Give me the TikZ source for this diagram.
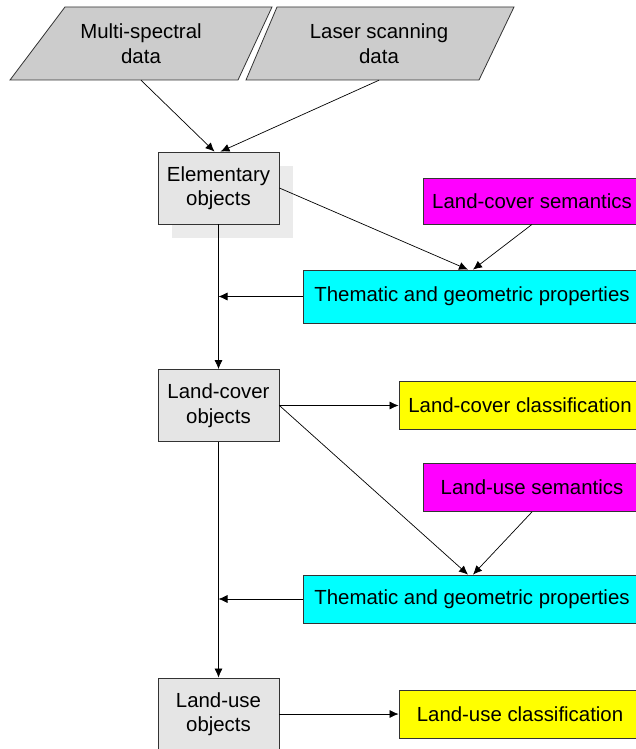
\documentclass[tikz,border=0pt]{standalone}
\usepackage{fontspec}
\setmainfont{Liberation Sans}
\usepackage{xcolor}
\usepackage{tikz}
\usetikzlibrary{arrows.meta,shadows}

\definecolor{semfill}{RGB}{255,0,255}
\definecolor{propfill}{RGB}{0,255,255}
\definecolor{resfill}{RGB}{255,255,0}

\begin{document}
\begin{tikzpicture}[x=1pt, y=-1pt, node distance=100pt, auto,
      font=\fontsize{20.4}{24.5}\selectfont,
      data/.style={draw=black!80, fill=black!20, line width=0.8pt},
      block/.style={rectangle, draw=black!80, fill=black!10, line width=0.8pt, align=center, minimum width=121pt, minimum height=72pt},
      prop/.style={rectangle, draw=black!80, fill=propfill, line width=0.8pt, minimum width=338pt, minimum height=48pt},
      sem/.style={rectangle, draw=black!80, fill=semfill, line width=0.8pt, minimum width=218pt, minimum height=48pt},
      result/.style={rectangle, draw=black!80, fill=resfill, line width=0.8pt, minimum width=242pt, minimum height=48pt},
      line/.style={draw, -{Latex[length=9pt, width=8pt]}, line width=0.7pt}]

      \useasboundingbox (0,0) rectangle (636,749);
      \clip (0,0) rectangle (636,749);

      % Input data
      \draw [data] (10,80) -- (238,80) -- (272,7) -- (65,7) -- cycle;
      \draw [data] (246,80) -- (479,80) -- (514,7) -- (277,7) -- cycle;
      \node [align=center, minimum height=73pt] (ms) at (141,43.5) {Multi-spectral\\data};
      \node [align=center, minimum height=73pt] (ls) at (379,43.5) {Laser scanning\\data};

      % Nodes
      \node [block, drop shadow={shadow xshift=14pt, shadow yshift=-14pt, fill=black!8, opacity=1}] (elem) at (218.5,188) {Elementary\\objects};
      \node [block, below of=elem, node distance=217.5pt] (lcobj) {Land-cover\\objects};
      \node [block, below of=lcobj, node distance=308.5pt] (luobj) {Land-use\\objects};
      \node [sem, minimum height=46pt] (lcsem) at (532,201) {Land-cover semantics};
      \node [prop, minimum height=53pt] (tgp1) at (472,296.5) {Thematic and geometric properties};
      \node [result, right of=lcobj, node distance=301.5pt] (lcclass) {Land-cover classification};
      \node [sem] (lusem) at (532,487.5) {Land-use semantics};
      \node [prop] (tgp2) at (472,599) {Thematic and geometric properties};
      \node [result, right of=luobj, node distance=301.5pt] (luclass) {Land-use classification};

      % Edges
      \path [line] (ms.south) -- ([xshift=-4pt]elem.north);
      \path [line] (ls.south) -- ([xshift=2pt]elem.north);
      \path [line] (elem.east) -- ([xshift=-4pt]tgp1.north);
      \path [line] (lcsem.south) -- ([xshift=1pt]tgp1.north);
      \path [line] (tgp1.west) -- (tgp1.west -| elem.south);
      \path [line] (elem.south) -- (lcobj.north);
      \path [line] (lcobj.east) -- (lcclass.west);
      \path [line] (lcobj.east) -- ([xshift=-4pt]tgp2.north);
      \path [line] (lusem.south) -- ([xshift=1pt]tgp2.north);
      \path [line] (tgp2.west) -- (tgp2.west -| lcobj.south);
      \path [line] (lcobj.south) -- (luobj.north);
      \path [line] (luobj.east) -- (luclass.west);

    \end{tikzpicture}
\end{document}
